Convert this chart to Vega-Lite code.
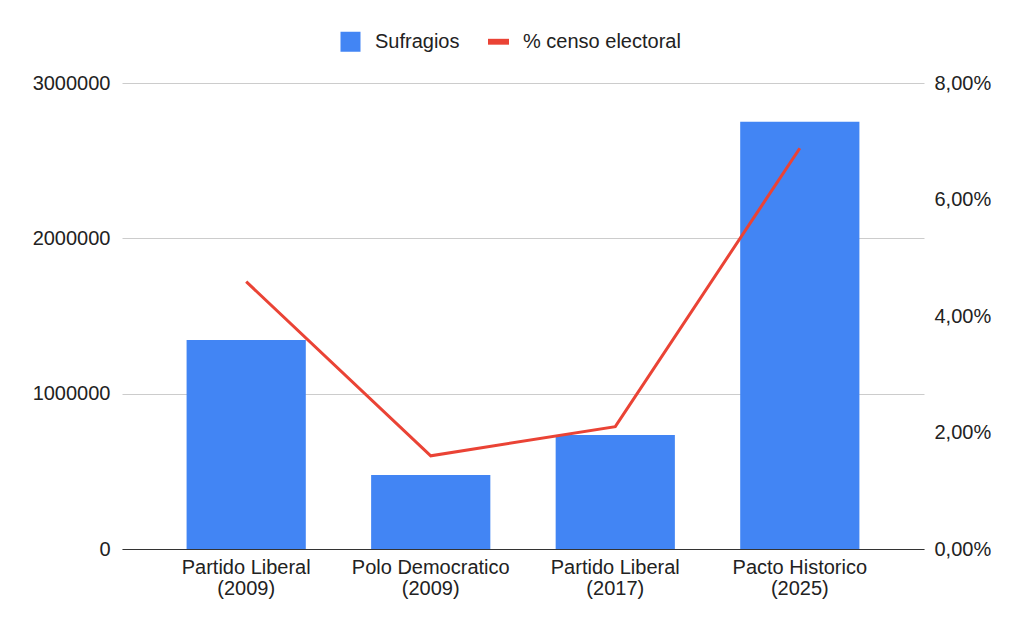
{
  "$schema": "https://vega.github.io/schema/vega-lite/v6.json",
  "width": 802,
  "height": 466,
  "autosize": {"type": "none"},
  "padding": {"left": 122, "top": 83, "right": 100, "bottom": 84},
  "background": "white",
  "config": {
    "font": "Liberation Sans",
    "view": {"stroke": null},
    "axis": {"labelFont": "Liberation Sans", "labelFontSize": 20, "labelColor": "#222222"}
  },
  "data": {
    "values": [
      {"partido": "Partido Liberal (2009)", "sufragios": 1345000, "pct": 0.0459},
      {"partido": "Polo Democratico (2009)", "sufragios": 476000, "pct": 0.0160},
      {"partido": "Partido Liberal (2017)", "sufragios": 734000, "pct": 0.0210},
      {"partido": "Pacto Historico (2025)", "sufragios": 2751000, "pct": 0.0688}
    ]
  },
  "encoding": {
    "x": {
      "field": "partido",
      "type": "nominal",
      "sort": null,
      "scale": {"paddingInner": 0.354, "paddingOuter": 0.35},
      "axis": {
        "title": null,
        "labelAngle": 0,
        "ticks": false,
        "domainColor": "#333333",
        "domainWidth": 1,
        "labelPadding": 8,
        "labelLineHeight": 21,
        "labelExpr": "[slice(datum.label, 0, indexof(datum.label, ' (')), slice(datum.label, indexof(datum.label, ' (') + 1)]"
      }
    }
  },
  "layer": [
    {
      "mark": {"type": "bar", "color": "#4285F4"},
      "encoding": {
        "y": {
          "field": "sufragios",
          "type": "quantitative",
          "scale": {"domain": [0, 3000000], "nice": false},
          "axis": {
            "title": null,
            "values": [0, 1000000, 2000000, 3000000],
            "format": "d",
            "domain": false,
            "ticks": false,
            "labelPadding": 12,
            "gridColor": "#cccccc",
            "gridWidth": 1
          }
        },
        "color": {
          "datum": "Sufragios",
          "scale": {"domain": ["Sufragios", "% censo electoral"], "range": ["#4285F4", "#EA4335"]},
          "legend": {
            "title": null,
            "orient": "none",
            "legendX": 218,
            "legendY": -52,
            "direction": "horizontal",
            "padding": 0,
            "labelFontSize": 20,
            "labelColor": "#222222",
            "labelFont": "Liberation Sans",
            "labelOffset": 14,
            "columnPadding": 28,
            "symbolSize": 400,
            "encode": {
              "symbols": {
                "update": {
                  "shape": {"signal": "datum.value === 'Sufragios' ? 'square' : 'M-1,-0.28H1V0.28H-1Z'"},
                  "fill": {"signal": "datum.value === 'Sufragios' ? '#4285F4' : '#EA4335'"},
                  "strokeWidth": {"value": 0},
                  "opacity": {"value": 1},
                  "size": {"signal": "datum.value === 'Sufragios' ? 400 : 441"}
                }
              }
            }
          }
        }
      }
    },
    {
      "mark": {"type": "line", "color": "#EA4335", "strokeWidth": 3},
      "encoding": {
        "y": {
          "field": "pct",
          "type": "quantitative",
          "scale": {"domain": [0, 0.08], "nice": false},
          "axis": {
            "orient": "right",
            "title": null,
            "values": [0, 0.02, 0.04, 0.06, 0.08],
            "labelExpr": "replace(format(datum.value, '.2%'), '.', ',')",
            "domain": false,
            "ticks": false,
            "grid": false,
            "labelPadding": 10
          }
        },
        "color": {"datum": "% censo electoral"}
      }
    }
  ],
  "resolve": {"scale": {"y": "independent"}}
}
